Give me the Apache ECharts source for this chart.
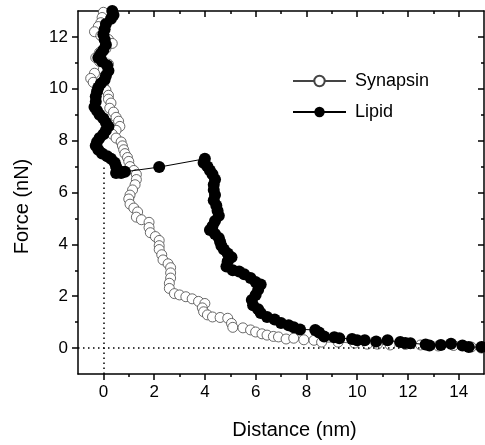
<!DOCTYPE html>
<html>
<head>
<meta charset="utf-8">
<script src="https://cdn.jsdelivr.net/npm/echarts@6/dist/echarts.min.js"></script>
<style>html,body{margin:0;padding:0;background:#fff;}#c{width:485px;height:445px;}</style>
</head>
<body>
<div id="c"></div>
<script>
var seriesNames = ['Synapsin', 'Lipid'];
var xMajorTicks = [0, 2, 4, 6, 8, 10, 12, 14];
var xMinorTicks = [1, 3, 5, 7, 9, 11, 13];
var yMajorTicks = [0, 2, 4, 6, 8, 10, 12];
var yMinorTicks = [1, 3, 5, 7, 9, 11];
var xRange = [-1, 15];
var yRange = [-1, 13];
var zeroLineTop = 7.1;

var synapsinData = [
[0.0,12.95],[-0.05,12.75],[-0.1,12.55],[-0.2,12.4],[-0.35,12.2],[-0.1,12.05],[0.2,11.9],[0.35,11.75],
[0.1,11.55],[-0.15,11.4],[-0.3,11.2],[-0.15,11.05],[0.2,10.95],[0.0,10.75],[-0.35,10.6],[-0.5,10.4],
[-0.4,10.25],[0.0,10.1],[0.1,9.95],[0.2,9.75],[0.2,9.6],[0.3,9.45],[0.25,9.25],[0.4,9.1],[0.5,8.9],
[0.6,8.75],[0.65,8.55],[0.5,8.4],[0.35,8.25],[0.5,8.1],[0.7,7.95],[0.75,7.8],[0.8,7.65],[0.85,7.5],
[0.95,7.35],[1.0,7.2],[1.05,7.0],[1.2,6.85],[1.3,6.7],[1.3,6.5],[1.25,6.3],[1.15,6.1],[1.05,5.9],
[1.0,5.75],[1.05,5.55],[1.2,5.4],[1.35,5.25],[1.3,5.05],[1.5,4.95],[1.8,4.85],[1.8,4.65],[1.85,4.45],
[2.05,4.3],[2.2,4.15],[2.2,3.95],[2.2,3.8],[2.3,3.6],[2.35,3.4],[2.55,3.25],[2.65,3.1],[2.65,2.9],
[2.65,2.7],[2.6,2.5],[2.6,2.3],[2.8,2.1],[3.0,2.05],[3.25,1.98],[3.5,1.9],[3.75,1.8],[4.0,1.72],
[3.9,1.55],[3.95,1.4],[4.1,1.28],[4.3,1.2],[4.6,1.18],[4.9,1.15],[5.05,0.95],[5.1,0.8],[5.5,0.78],
[5.8,0.7],[6.0,0.62],[6.25,0.55],[6.45,0.5],[6.7,0.45],[6.9,0.43],[7.2,0.35],[7.5,0.38],[7.9,0.32],
[8.3,0.3],[8.6,0.23],[9.25,0.23],[9.9,0.19],[10.4,0.15],[10.8,0.15],[11.3,0.12],[11.9,0.14],
[12.5,0.12],[13.2,0.08],[13.8,0.1],[14.5,0.04],[14.9,0.0]
];

var lipidData = [
[0.35,13.0],[0.4,12.85],[0.3,12.7],[0.1,12.5],[0.05,12.3],[0.0,12.1],[0.05,11.9],[0.1,11.7],[0.0,11.5],
[-0.1,11.35],[-0.2,11.2],[-0.05,11.05],[0.15,10.9],[0.2,10.7],[0.1,10.5],[0.05,10.35],[-0.1,10.2],
[-0.2,10.05],[-0.25,9.9],[-0.3,9.7],[-0.3,9.5],[-0.35,9.3],[-0.25,9.15],[-0.15,9.0],[0.0,8.85],
[0.1,8.7],[0.2,8.55],[0.1,8.4],[0.0,8.25],[-0.15,8.1],[-0.25,7.95],[-0.3,7.8],[-0.2,7.65],[-0.05,7.5],
[0.15,7.4],[0.3,7.3],[0.45,7.15],[0.5,7.0],[0.6,6.85],[0.7,6.75],[0.5,6.75],[0.85,6.8],
[2.2,6.98],
[4.0,7.3],[3.95,7.15],[4.1,7.0],[4.2,6.85],[4.3,6.7],[4.4,6.5],[4.35,6.3],[4.35,6.1],[4.4,5.9],
[4.35,5.7],[4.45,5.5],[4.5,5.3],[4.55,5.1],[4.4,4.9],[4.3,4.7],[4.2,4.55],[4.4,4.4],[4.55,4.25],
[4.6,4.1],[4.65,3.95],[4.75,3.8],[4.9,3.65],[5.05,3.5],[4.9,3.35],[4.85,3.15],[5.1,3.0],[5.35,2.95],
[5.55,2.85],[5.8,2.7],[6.0,2.55],[6.2,2.45],[6.1,2.25],[6.0,2.05],[5.85,1.85],[5.9,1.65],[6.1,1.5],
[6.2,1.35],[6.45,1.2],[6.75,1.1],[7.0,0.97],[7.3,0.88],[7.5,0.8],[7.75,0.72],[8.35,0.7],[8.5,0.6],
[8.7,0.45],[9.1,0.42],[9.3,0.38],[9.8,0.35],[10.0,0.3],[10.3,0.3],[10.75,0.25],[11.2,0.3],[11.7,0.23],
[11.9,0.2],[12.1,0.19],[12.7,0.14],[12.85,0.1],[13.3,0.12],[13.7,0.17],[14.15,0.1],[14.4,0.04],[14.9,0.04]
];

var FONT = 'Liberation Sans, Arial, sans-serif';

function mkX(pos, ticks, len, inside, showLine, showLabel, name) {
  return {
    type: 'value', position: pos, min: xRange[0], max: xRange[1],
    axisLine: {show: showLine, onZero: false, lineStyle: {color: '#000', width: 1.5}},
    axisTick: {show: true, inside: inside, length: len, customValues: ticks, lineStyle: {color: '#000', width: 1.5}},
    axisLabel: showLabel ? {show: true, customValues: ticks, color: '#000', fontSize: 17, fontFamily: FONT, margin: 10} : {show: false},
    splitLine: {show: false},
    name: name || '', nameLocation: 'middle', nameGap: 46,
    nameTextStyle: {color: '#000', fontSize: 20, fontFamily: FONT, padding: [0, 0, 0, 27]}
  };
}
function mkY(pos, ticks, len, inside, showLine, showLabel, name) {
  return {
    type: 'value', position: pos, min: yRange[0], max: yRange[1],
    axisLine: {show: showLine, onZero: false, lineStyle: {color: '#000', width: 1.5}},
    axisTick: {show: true, inside: inside, length: len, customValues: ticks, lineStyle: {color: '#000', width: 1.5}},
    axisLabel: showLabel ? {show: true, customValues: ticks, color: '#000', fontSize: 17, fontFamily: FONT, margin: 10} : {show: false},
    splitLine: {show: false},
    name: name || '', nameLocation: 'middle', nameGap: 46,
    nameTextStyle: {color: '#000', fontSize: 20, fontFamily: FONT, padding: [0, 28, 0, 0]}
  };
}

var chart = echarts.init(document.getElementById('c'), null, {renderer: 'canvas'});
chart.setOption({
  animation: false,
  backgroundColor: '#fff',
  grid: {left: 78, right: 1, top: 11, bottom: 71},
  legend: {
    orient: 'vertical', left: 292, top: 72, padding: 0, itemWidth: 53, itemHeight: 13, itemGap: 13,
    data: seriesNames,
    textStyle: {color: '#000', fontSize: 18, fontFamily: FONT, padding: [0, 0, 0, 4]}
  },
  xAxis: [
    mkX('bottom', xMajorTicks, 6, false, true, true, 'Distance (nm)'),
    mkX('bottom', xMinorTicks, 3, false, false, false),
    mkX('top', xMajorTicks, 6, true, true, false),
    mkX('top', xMinorTicks, 3, true, false, false)
  ],
  yAxis: [
    mkY('left', yMajorTicks, 6, false, true, true, 'Force (nN)'),
    mkY('left', yMinorTicks, 3, false, false, false),
    mkY('right', yMajorTicks, 6, true, true, false),
    mkY('right', yMinorTicks, 3, true, false, false)
  ],
  series: [
    {
      name: seriesNames[0], type: 'line', data: synapsinData, xAxisIndex: 0, yAxisIndex: 0,
      symbol: 'circle', symbolSize: 10, showAllSymbol: true,
      lineStyle: {color: '#444', width: 0.8},
      itemStyle: {color: '#fff', borderColor: '#444', borderWidth: 0.8},
      markLine: {
        silent: true, symbol: 'none', label: {show: false},
        lineStyle: {color: '#000', type: [1.5, 3.5], width: 1.5},
        data: [
          [{coord: [0, yRange[0]]}, {coord: [0, zeroLineTop]}],
          [{coord: [xRange[0], 0]}, {coord: [xRange[1], 0]}]
        ]
      },
      z: 2
    },
    {
      name: seriesNames[1], type: 'line', data: lipidData, xAxisIndex: 0, yAxisIndex: 0,
      symbol: 'circle', symbolSize: 12, showAllSymbol: true,
      lineStyle: {color: '#000', width: 1},
      itemStyle: {color: '#000', borderColor: '#000', borderWidth: 0},
      z: 3
    }
  ]
});
</script>
</body>
</html>
